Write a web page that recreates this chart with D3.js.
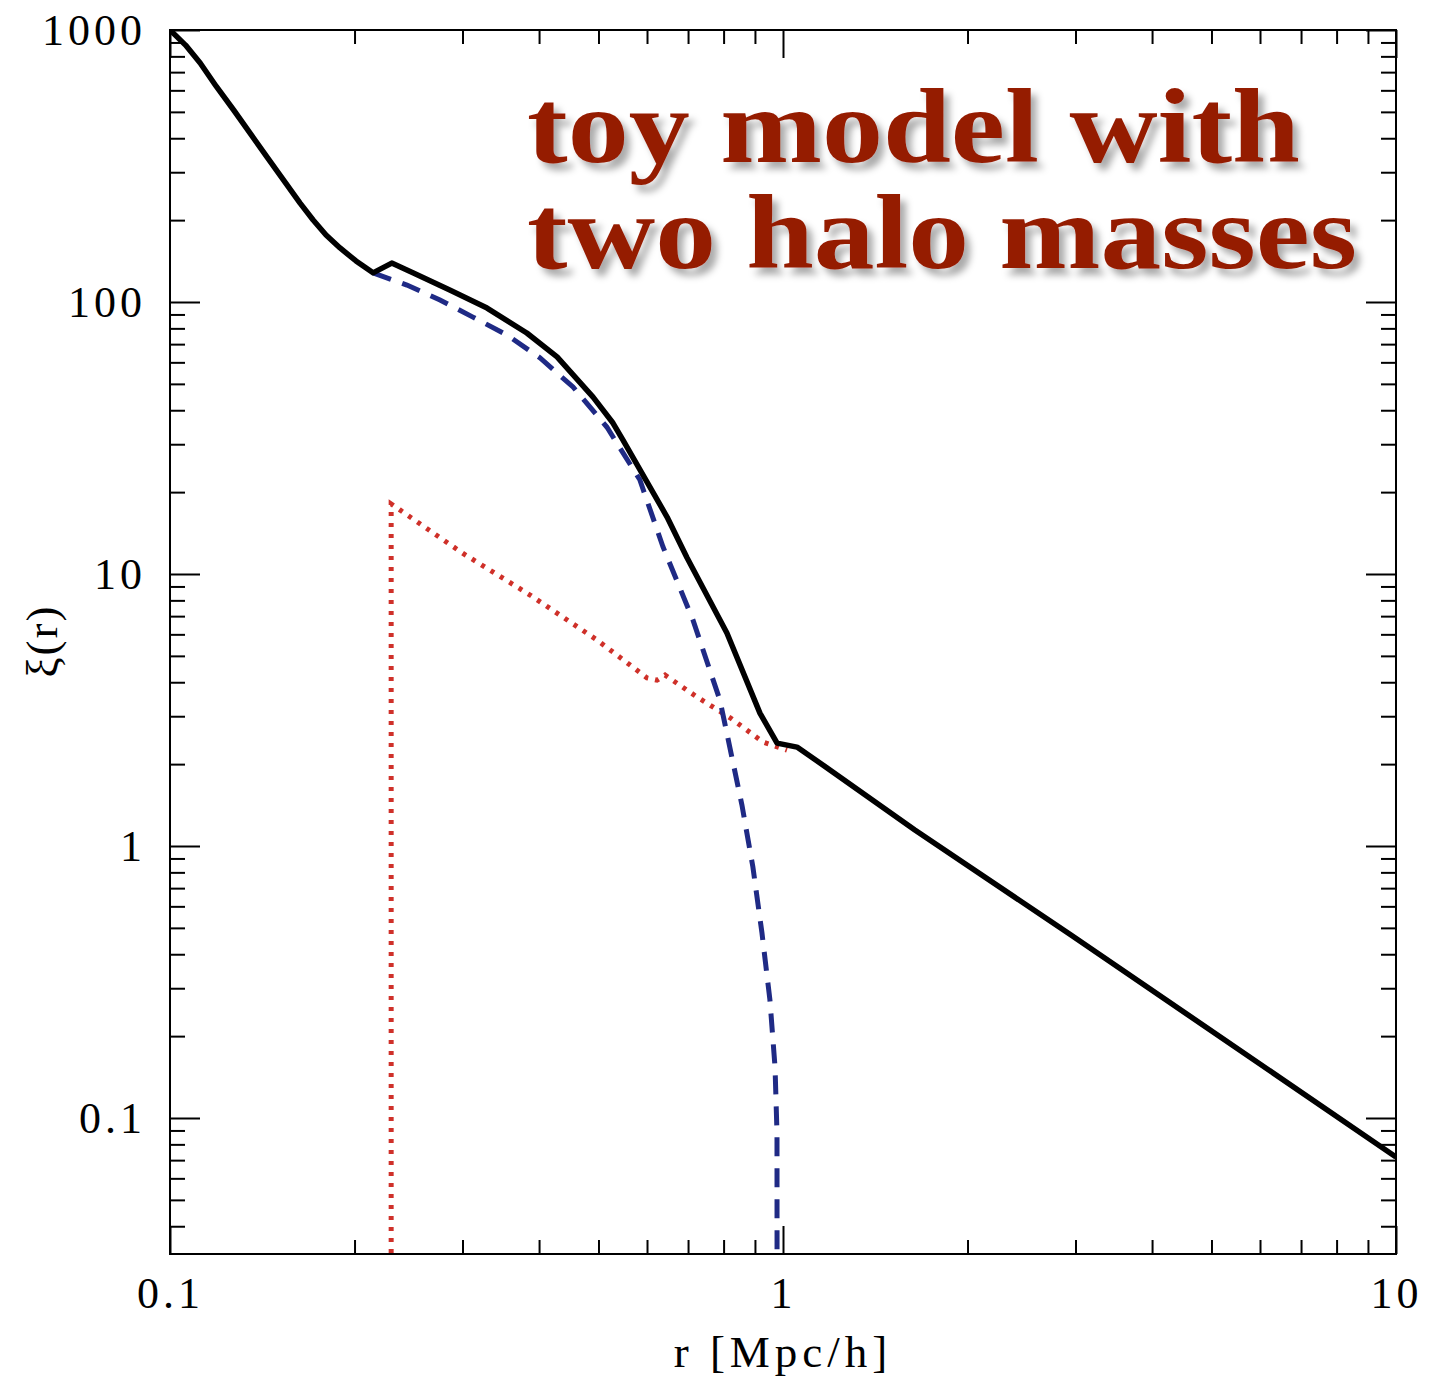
<!DOCTYPE html>
<html>
<head>
<meta charset="utf-8">
<script src="https://cdn.jsdelivr.net/npm/d3@7"></script>
<style>
  html, body { margin: 0; padding: 0; background: #fff; }
  svg { display: block; }
</style>
</head>
<body>
<svg id="chart" width="1429" height="1380"></svg>
<script>
// ---- data ----
const rTotal  = [0.1, 0.106, 0.112, 0.119, 0.127, 0.144, 0.163, 0.1712, 0.1797, 0.1894, 0.2011, 0.2144, 0.23, 0.249, 0.286, 0.329, 0.382, 0.428, 0.49, 0.528, 0.548, 0.647, 0.697, 0.81, 0.917, 0.978, 1.054, 1.149, 1.641, 2.95, 10];
const xiTotal = [1000, 880, 756, 620, 508, 341, 231, 200.3, 176.3, 158, 141.5, 128, 139, 128, 110.7, 95, 76.9, 62.8, 44.7, 35.9, 31.1, 16.2, 11.5, 6.07, 3.08, 2.39, 2.31, 2.02, 1.145, 0.471, 0.0719];

const rCentral  = [0.2144, 0.2435, 0.2757, 0.312, 0.3546, 0.4016, 0.4544, 0.516, 0.584, 0.637, 0.713, 0.789, 0.857, 0.893, 0.924, 0.952, 0.9705, 0.9777, 0.978];
const xiCentral = [128, 115.4, 101.7, 88, 75.6, 62.3, 48.7, 34.7, 22.2, 12.6, 6.78, 3.44, 1.416, 0.838, 0.479, 0.272, 0.154, 0.088, 0.02];

const rSat  = [0.2295, 0.2295, 0.2372, 0.3006, 0.3867, 0.4973, 0.600, 0.623, 0.642, 0.724, 0.820, 0.928, 1.015];
const xiSat = [0.02, 18.1, 17.2, 11.9, 8.37, 5.72, 4.15, 4.07, 4.25, 3.53, 2.96, 2.41, 2.25];

const yMajor = [0.1, 1, 10, 100, 1000];
const yMajorLabels = ["0.1", "1", "10", "100", "1000"];
const xMajor = [0.1, 1, 10];
const xMajorLabels = ["0.1", "1", "10"];
const titleLines = ["toy model with", "two halo masses"];
const xTitle = "r [Mpc/h]";
const yTitle = "ξ(r)";

// ---- layout ----
const L = 170, R = 1396, T = 30, B = 1254;
const svg = d3.select("#chart");

const x = d3.scaleLog().domain([0.1, 10]).range([L, R]);
const y = d3.scaleLog().domain([Math.pow(10, -1.5), 1000]).range([B, T]);

function minorTicks(lo, hi, dom) {
  const out = [];
  for (let e = lo; e <= hi; e++) for (let k = 2; k <= 9; k++) {
    const v = k * Math.pow(10, e);
    if (v > dom[0] && v < dom[1]) out.push(v);
  }
  return out;
}
const yMinor = minorTicks(-2, 2, y.domain());
const xMinor = minorTicks(-1, 0, x.domain());

const defs = svg.append("defs");
defs.append("clipPath").attr("id", "plotclip")
  .append("rect").attr("x", L).attr("y", T).attr("width", R - L).attr("height", B - T);
const f = defs.append("filter").attr("id", "shadow")
  .attr("x", "-10%").attr("y", "-10%").attr("width", "130%").attr("height", "140%");
f.append("feDropShadow").attr("dx", 6).attr("dy", 7).attr("stdDeviation", 3.5)
  .attr("flood-color", "#000").attr("flood-opacity", 0.33);

const labelFont = "'Liberation Serif', 'Times New Roman', serif";

function styleAxis(g) {
  g.select(".domain").remove();
  g.selectAll(".tick line").attr("stroke", "#000").attr("stroke-width", 2);
  g.selectAll(".tick text").attr("fill", "#000")
    .style("font-family", labelFont).style("font-size", "44px").style("letter-spacing", "4px");
}

// left axis
svg.append("g").attr("transform", `translate(${L},0)`)
  .call(d3.axisLeft(y).tickValues(yMajor).tickSizeInner(-30).tickSizeOuter(0).tickPadding(24)
    .tickFormat((d, i) => yMajorLabels[i]))
  .call(styleAxis);
svg.append("g").attr("transform", `translate(${L},0)`)
  .call(d3.axisLeft(y).tickValues(yMinor).tickSizeInner(-15).tickSizeOuter(0).tickFormat(""))
  .call(styleAxis);
// right axis
svg.append("g").attr("transform", `translate(${R},0)`)
  .call(d3.axisRight(y).tickValues(yMajor).tickSizeInner(-30).tickSizeOuter(0).tickFormat(""))
  .call(styleAxis);
svg.append("g").attr("transform", `translate(${R},0)`)
  .call(d3.axisRight(y).tickValues(yMinor).tickSizeInner(-15).tickSizeOuter(0).tickFormat(""))
  .call(styleAxis);
// bottom axis
svg.append("g").attr("transform", `translate(0,${B})`)
  .call(d3.axisBottom(x).tickValues(xMajor).tickSizeInner(-28).tickSizeOuter(0).tickPadding(23)
    .tickFormat((d, i) => xMajorLabels[i]))
  .call(styleAxis);
svg.append("g").attr("transform", `translate(0,${B})`)
  .call(d3.axisBottom(x).tickValues(xMinor).tickSizeInner(-14).tickSizeOuter(0).tickFormat(""))
  .call(styleAxis);
// top axis
svg.append("g").attr("transform", `translate(0,${T})`)
  .call(d3.axisTop(x).tickValues(xMajor).tickSizeInner(-28).tickSizeOuter(0).tickFormat(""))
  .call(styleAxis);
svg.append("g").attr("transform", `translate(0,${T})`)
  .call(d3.axisTop(x).tickValues(xMinor).tickSizeInner(-14).tickSizeOuter(0).tickFormat(""))
  .call(styleAxis);

// frame
svg.append("rect").attr("x", L).attr("y", T).attr("width", R - L).attr("height", B - T)
  .attr("fill", "none").attr("stroke", "#000").attr("stroke-width", 2);

// curves
const line = d3.line().x(d => x(d[0])).y(d => y(d[1]));
const plot = svg.append("g").attr("clip-path", "url(#plotclip)");

plot.append("path").datum(d3.zip(rSat, xiSat)).attr("d", line)
  .attr("fill", "none").attr("stroke", "#cf3029").attr("stroke-width", 5)
  .attr("stroke-dasharray", "4,7");

plot.append("path").datum(d3.zip(rCentral, xiCentral)).attr("d", line)
  .attr("fill", "none").attr("stroke", "#1f2a85").attr("stroke-width", 5)
  .attr("stroke-dasharray", "19,12");

plot.append("path").datum(d3.zip(rTotal, xiTotal)).attr("d", line)
  .attr("fill", "none").attr("stroke", "#000").attr("stroke-width", 5.5)
  .attr("stroke-linejoin", "round");

// axis titles
svg.append("text").attr("x", x(1)).attr("y", 1367).attr("text-anchor", "middle")
  .style("font-family", labelFont).style("font-size", "45px").style("letter-spacing", "5px")
  .text(xTitle);
svg.append("text").attr("transform", "translate(57,641) rotate(-90)").attr("text-anchor", "middle")
  .style("font-family", labelFont).style("font-size", "45px").style("letter-spacing", "2px")
  .text(yTitle);

// title
const title = svg.append("g").attr("filter", "url(#shadow)");
const titleFont = "'Liberation Serif', 'DejaVu Serif', serif";
title.append("text").attr("x", 527).attr("y", 162).attr("textLength", 773).attr("lengthAdjust", "spacingAndGlyphs")
  .style("font-family", titleFont).style("font-weight", "bold").style("font-size", "106px")
  .attr("fill", "#951a05").text(titleLines[0]);
title.append("text").attr("x", 527).attr("y", 268).attr("textLength", 830).attr("lengthAdjust", "spacingAndGlyphs")
  .style("font-family", titleFont).style("font-weight", "bold").style("font-size", "106px")
  .attr("fill", "#951a05").text(titleLines[1]);
</script>
</body>
</html>
